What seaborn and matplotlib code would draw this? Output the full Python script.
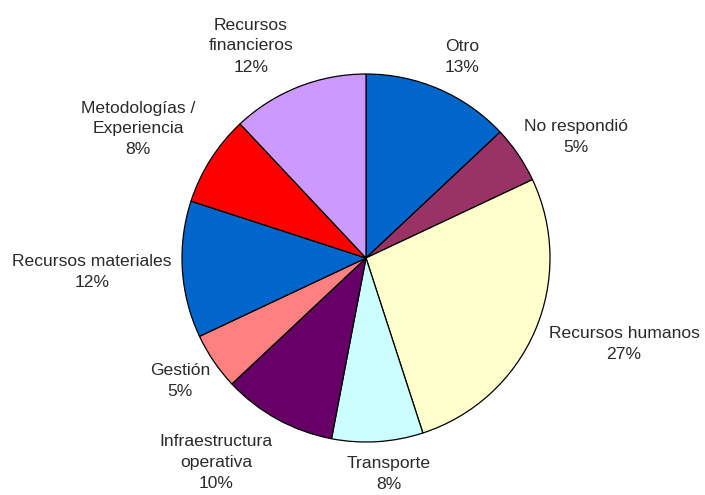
import matplotlib

matplotlib.use("Agg")
import matplotlib.pyplot as plt
import seaborn as sns

# slices, clockwise from 12 o'clock
categories = [
    "Otro",
    "No respondió",
    "Recursos humanos",
    "Transporte",
    "Infraestructura\noperativa",
    "Gestión",
    "Recursos materiales",
    "Metodologías /\nExperiencia",
    "Recursos\nfinancieros",
]
percent = [13, 5, 27, 8, 10, 5, 12, 8, 12]
colors = [
    "#0066CC", "#993366", "#FFFFCC", "#CCFFFF", "#660066",
    "#FF8080", "#0066CC", "#FF0000", "#CC99FF",
]

# label centres in pixels (x, y from top)
label_pos = [
    (462, 57), (576, 137), (624, 344), (389, 474), (216, 462),
    (180, 381), (92, 272), (138, 129), (251, 46),
]

W, H = 705, 495

sns.set_theme(style="white")
plt.rcParams["font.family"] = ["Liberation Sans", "DejaVu Sans"]

fig = plt.figure(figsize=(W / 100, H / 100), dpi=100)
fig.patch.set_facecolor("white")
ax = fig.add_axes([0, 0, 1, 1])

ax.pie(
    percent,
    colors=colors,
    startangle=90,
    counterclock=False,
    center=(366, H - 258),
    radius=184,
    wedgeprops={"edgecolor": "black", "linewidth": 0.9},
)

for name, pct, (x, y) in zip(categories, percent, label_pos):
    ax.text(x, H - y, f"{name}\n{pct}%", ha="center", va="center",
            fontsize=12.6, color="#2a2a2a", linespacing=1.5)

ax.set_xlim(0, W)
ax.set_ylim(0, H)
ax.set_aspect("equal")
ax.axis("off")

fig.savefig("out.png", dpi=100, facecolor="white")
